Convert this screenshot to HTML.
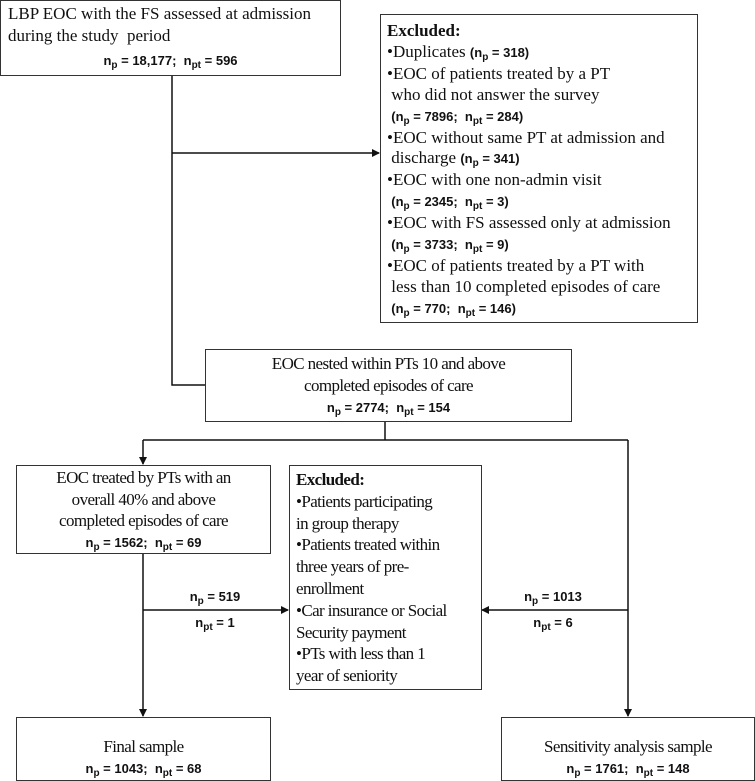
<!DOCTYPE html>
<html><head><meta charset="utf-8"><style>
body{margin:0;width:755px;height:779px;background:#fff;position:relative;overflow:hidden;font-family:"Liberation Serif",serif;color:#111}
.b{position:absolute;border:1.5px solid #333;box-sizing:border-box;background:#fff}
.n{font-family:"Liberation Sans",sans-serif;font-weight:bold;font-size:13px;letter-spacing:0}
sub{font-size:10px;line-height:0;vertical-align:baseline;position:relative;top:3px}
.c{text-align:center}
.t{font-size:17px;line-height:21.5px}
.cond{letter-spacing:-0.6px}
.lab{position:absolute;font-family:"Liberation Sans",sans-serif;font-weight:bold;font-size:13px;text-align:center;width:80px}
</style></head><body>
<svg width="755" height="779" style="position:absolute;left:0;top:0">
<defs><marker id="a" markerWidth="8" markerHeight="8" refX="7" refY="4" orient="auto" markerUnits="userSpaceOnUse"><path d="M0,0 L8,4 L0,8 z" fill="#111"/></marker></defs>
<g stroke="#111" stroke-width="1.5" fill="none">
<path d="M172,75 V385 H205"/>
<path d="M172,153 H379" marker-end="url(#a)"/>
<path d="M385,421 V440"/>
<path d="M143,440 H628"/>
<path d="M143,440 V464" marker-end="url(#a)"/>
<path d="M143,553 V716" marker-end="url(#a)"/>
<path d="M628,440 V716" marker-end="url(#a)"/>
<path d="M143,610 H288" marker-end="url(#a)"/>
<path d="M628,610 H482" marker-end="url(#a)"/>
</g></svg>
<div class="b t" style="left:0;top:0;width:341px;height:76px;padding:2px 7px">LBP EOC with the FS assessed at admission<br>during the study&nbsp; period<div class="c n" style="margin-top:4px">n<sub>p</sub> = 18,177;&nbsp; n<sub>pt</sub> = 596</div></div>
<div class="b t" style="left:380px;top:14px;width:318px;height:309px;padding:6px 6px;line-height:20.9px">
<b>Excluded:</b><br>•Duplicates <span class="n">(n<sub>p</sub> = 318)</span><br>•EOC of patients treated by a PT<br>&nbsp;who did not answer the survey<br>&nbsp;<span class="n">(n<sub>p</sub> = 7896;&nbsp; n<sub>pt</sub> = 284)</span><br>•EOC without same PT at admission and<br>&nbsp;discharge <span class="n">(n<sub>p</sub> = 341)</span><br>•EOC with one non-admin visit<br>&nbsp;<span class="n">(n<sub>p</sub> = 2345;&nbsp; n<sub>pt</sub> = 3)</span><br>•EOC with FS assessed only at admission<br>&nbsp;<span class="n">(n<sub>p</sub> = 3733;&nbsp; n<sub>pt</sub> = 9)</span><br>•EOC of patients treated by a PT with<br>&nbsp;less than 10 completed episodes of care<br>&nbsp;<span class="n">(n<sub>p</sub> = 770;&nbsp; n<sub>pt</sub> = 146)</span></div>
<div class="b t c cond" style="left:205px;top:349px;width:367px;height:73px;padding-top:3px">EOC nested within PTs 10 and above<br>completed episodes of care<div class="n" style="margin-top:1px">n<sub>p</sub> = 2774;&nbsp; n<sub>pt</sub> = 154</div></div>
<div class="b t c cond" style="left:16px;top:465px;width:255px;height:89px;padding-top:1px">EOC treated by PTs with an<br>overall 40% and above<br>completed episodes of care<div class="n">n<sub>p</sub> = 1562;&nbsp; n<sub>pt</sub> = 69</div></div>
<div class="b t cond" style="left:289px;top:465px;width:193px;height:225px;padding:3px 6px;line-height:21.8px"><b>Excluded:</b><br>•Patients participating<br>in group therapy<br>•Patients treated within<br>three years of pre-<br>enrollment<br>•Car insurance or Social<br>Security payment<br>•PTs with less than 1<br>year of seniority</div>
<div class="lab" style="left:175px;top:589px">n<sub>p</sub> = 519</div>
<div class="lab" style="left:175px;top:615px">n<sub>pt</sub> = 1</div>
<div class="lab" style="left:513px;top:589px">n<sub>p</sub> = 1013</div>
<div class="lab" style="left:513px;top:615px">n<sub>pt</sub> = 6</div>
<div class="b t c cond" style="left:16px;top:717px;width:255px;height:64px;padding-top:18px">Final sample<div class="n">n<sub>p</sub> = 1043;&nbsp; n<sub>pt</sub> = 68</div></div>
<div class="b t c cond" style="left:501px;top:717px;width:254px;height:64px;padding-top:18px">Sensitivity analysis sample<div class="n">n<sub>p</sub> = 1761;&nbsp; n<sub>pt</sub> = 148</div></div>
</body></html>
